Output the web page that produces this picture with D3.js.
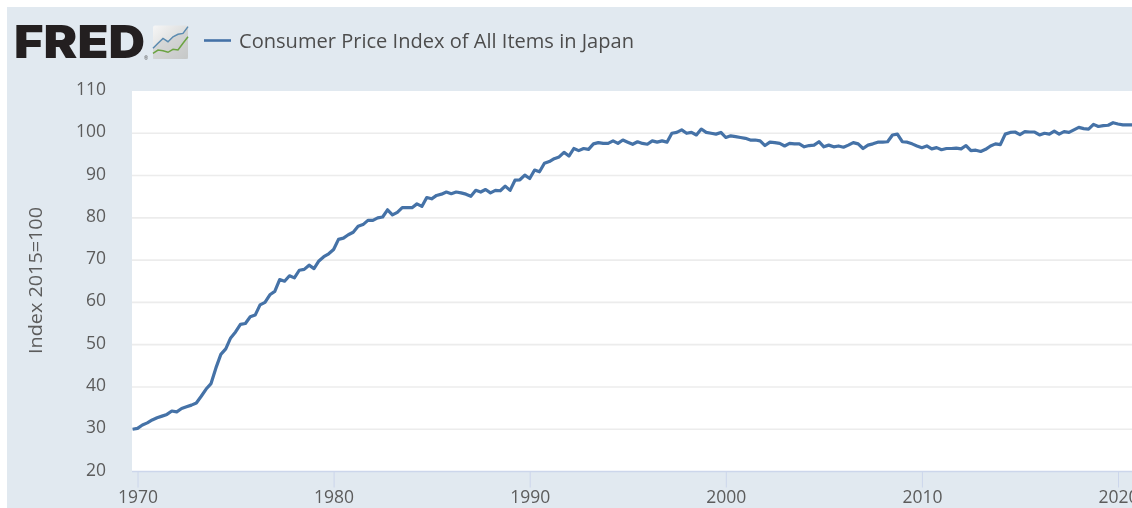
<!DOCTYPE html>
<html><head><meta charset="utf-8">
<script src="https://cdn.jsdelivr.net/npm/d3@7/dist/d3.min.js"></script>
<style>html,body{margin:0;padding:0;background:#fff;overflow:hidden}svg{display:block;filter:blur(0.55px)}text{font-family:"Open Sans",sans-serif}</style>
</head><body><svg id="c" width="1132" height="508"></svg>
<script>
const seriesName = "Consumer Price Index of All Items in Japan";
const yAxisTitle = "Index 2015=100";
const yTicks = [20,30,40,50,60,70,80,90,100,110];
const xTicks = [1970,1980,1990,2000,2010,2020];
const startYear = 1969.75;
// quarterly readings, from Oct 1969 onward
const cpi = [30.0,
30.2,31.0,31.5,32.2, 32.7,33.1,33.5,34.3, 34.1,34.9,35.3,35.7, 36.2,37.8,39.5,40.8,
44.5,47.7,49.0,51.6, 53.0,54.8,55.0,56.6, 57.0,59.4,60.0,61.8, 62.6,65.4,65.0,66.3,
65.8,67.6,67.8,68.8, 68.0,69.8,70.8,71.5, 72.5,74.9,75.2,76.0, 76.6,78.0,78.4,79.4,
79.4,80.0,80.2,81.9, 80.7,81.3,82.4,82.4, 82.4,83.3,82.7,84.8, 84.5,85.3,85.6,86.1,
85.7,86.1,85.9,85.6, 85.1,86.5,86.1,86.7, 85.9,86.5,86.4,87.5, 86.5,88.9,89.0,90.1,
89.3,91.3,90.9,92.9, 93.3,94.0,94.4,95.5, 94.6,96.4,95.9,96.4, 96.2,97.5,97.8,97.6,
97.6,98.2,97.6,98.4, 97.9,97.4,98.0,97.6, 97.4,98.2,97.9,98.2, 97.9,100.0,100.2,100.8,
100.0,100.2,99.6,101.0, 100.2,100.0,99.8,100.2, 99.0,99.4,99.2,99.0, 98.8,98.4,98.4,98.2,
97.1,97.9,97.8,97.6, 97.0,97.6,97.5,97.5, 96.8,97.1,97.2,98.0, 96.8,97.2,96.8,97.0,
96.7,97.2,97.8,97.5, 96.4,97.2,97.5,97.9, 97.9,98.0,99.6,99.8, 98.0,97.9,97.5,97.0,
96.6,97.0,96.3,96.6, 96.1,96.4,96.4,96.5, 96.3,97.1,95.9,96.0, 95.7,96.2,97.0,97.5,
97.3,99.8,100.2,100.3, 99.7,100.4,100.3,100.3, 99.6,100.0,99.8,100.5, 99.8,100.4,100.2,100.8,
101.4,101.1,101.0,102.1, 101.6,101.8,101.9,102.5, 102.2,102.0,102.0,102.0];
const iconBlue = [3,5.2,7.4,5.9,8.1,9.2,9.6,12.6];
const iconGreen = [0.7,2.2,1.9,1.2,2.5,2.2,5.2,8.1];

const svg = d3.select("#c");
const W=1132,H=508;
const P={l:132,t:91,r:1132,b:471.5};
const ink="#5c5c5c";
const tickFont="17.5px";
svg.append("rect").attr("x",7).attr("y",7).attr("width",W-7).attr("height",H-7).attr("fill","#e1e9f0");
svg.append("rect").attr("x",P.l).attr("y",P.t).attr("width",P.r-P.l).attr("height",P.b-P.t).attr("fill","#fff");

const x=d3.scaleLinear().domain([1970,2020]).range([137.5,1118]);
const y=d3.scaleLinear().domain([20,110]).range([P.b,P.t]);

// grid
svg.append("g").selectAll("line").data(yTicks.filter(d=>d>20&&d<110)).join("line")
 .attr("x1",P.l).attr("x2",P.r).attr("y1",d=>y(d)).attr("y2",d=>y(d))
 .attr("stroke","#ececec").attr("stroke-width",1.6);

// axes
const gx=svg.append("g").attr("transform",`translate(0,${P.b})`)
 .call(d3.axisBottom(x).tickValues(xTicks).tickFormat(d3.format("d")).tickSize(16).tickPadding(3));
gx.select(".domain").remove();
svg.append("line").attr("x1",P.l).attr("x2",P.r).attr("y1",P.b).attr("y2",P.b).attr("stroke","#ccd6eb").attr("stroke-width",1.5);
gx.selectAll("line").attr("stroke","#ccd6eb");
gx.selectAll("text").attr("fill",ink).style("font-size",tickFont).style("font-family",'"Open Sans",sans-serif');

const gy=svg.append("g").attr("transform",`translate(${P.l},0)`)
 .call(d3.axisLeft(y).tickValues(yTicks).tickSize(0).tickPadding(26));
gy.select(".domain").remove();
gy.selectAll("text").attr("fill",ink).attr("dy","0.2em").style("font-size",tickFont).style("font-family",'"Open Sans",sans-serif');

svg.append("text").attr("transform","translate(42,280.5) rotate(-90)").attr("text-anchor","middle")
 .attr("fill",ink).style("font-size","19px").attr("textLength",147).attr("lengthAdjust","spacingAndGlyphs").text(yAxisTitle);

// series
svg.append("defs").append("clipPath").attr("id","pc").append("rect")
 .attr("x",P.l).attr("y",P.t).attr("width",P.r-P.l).attr("height",P.b-P.t);
const line=d3.line().x((d,i)=>x(startYear+i*0.25)).y(d=>y(d));
svg.append("path").datum(cpi).attr("clip-path","url(#pc)").attr("d",line)
 .attr("fill","none").attr("stroke","#4572a7").attr("stroke-width",3.2).attr("stroke-linejoin","round");

// header: logo and legend
svg.append("text").attr("x",14).attr("y",58).attr("textLength",131).attr("lengthAdjust","spacingAndGlyphs")
 .attr("fill","#231f20").style("font-family",'Inter,"Liberation Sans",sans-serif').style("font-weight",900).style("font-size","45px").text("FRED");
svg.append("text").attr("x",144).attr("y",60).attr("fill","#555").style("font-size","5px").text("®");
const grad=svg.select("defs").append("linearGradient").attr("id","ig").attr("x1",0).attr("y1",0).attr("x2",1).attr("y2",1);
grad.append("stop").attr("offset",0).attr("stop-color","#f6f6f6");
grad.append("stop").attr("offset",1).attr("stop-color","#c8cac9");
svg.append("rect").attr("x",153).attr("y",25.5).attr("width",35).attr("height",33.5).attr("rx",2).attr("fill","url(#ig)");
const ix=d3.scaleLinear().domain([0,iconBlue.length-1]).range([153,188]);
const iy=d3.scaleLinear().domain([0,12]).range([55,28]);
const il=d3.line().x((d,i)=>ix(i)).y(d=>iy(d));
const ia=d3.area().x((d,i)=>ix(i)).y0(59).y1(d=>iy(d));
svg.append("path").datum(iconBlue).attr("d",ia).attr("fill","#c3c6c6").attr("opacity",0.45);
svg.append("path").datum(iconBlue).attr("d",il).attr("fill","none").attr("stroke","#5b8bb0").attr("stroke-width",1.5);
svg.append("path").datum(iconGreen).attr("d",il).attr("fill","none").attr("stroke","#6ba342").attr("stroke-width",1.5);

svg.append("line").attr("x1",204).attr("x2",231).attr("y1",40.5).attr("y2",40.5).attr("stroke","#4572a7").attr("stroke-width",2.6);
svg.append("text").attr("x",239).attr("y",48).attr("fill","#4d4d4d").style("font-size","20px").attr("textLength",395).attr("lengthAdjust","spacingAndGlyphs").text(seriesName);
</script></body></html>
